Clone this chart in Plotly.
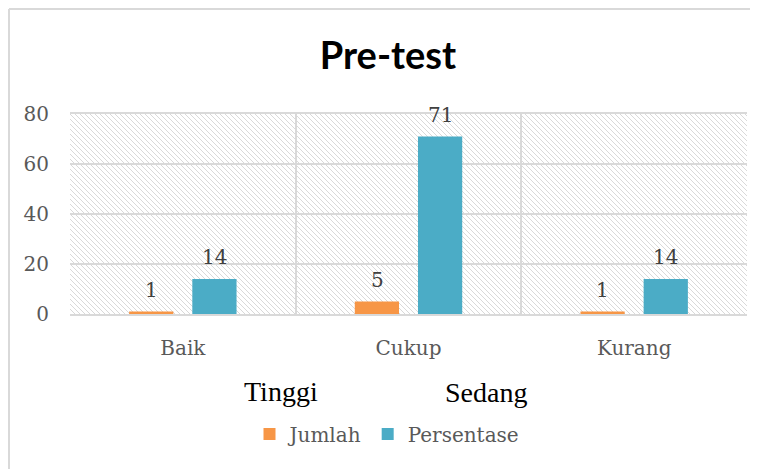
import base64
import plotly.graph_objects as go

# chart data
categories = ["Baik", "Cukup", "Kurang"]
jumlah = [1, 5, 1]
persentase = [14, 71, 14]
y_ticks = [0, 20, 40, 60, 80]
extra_labels = ["Tinggi", "Sedang"]

COLORS = {'jumlah': '#F79646', 'persentase': '#4BACC6', 'grid': '#D9D9D9', 'text': '#595959'}
SERIF = "DejaVu Serif, Liberation Serif, serif"

# figure geometry (px); the page body adds an 8px margin
W, H = 750, 461
L, R, T, B = 62, 11, 106, 155
PW, PH = W - L - R, H - T - B

# diagonal hatch for the plot area background
hatch_svg = (
    f'<svg xmlns="http://www.w3.org/2000/svg" width="{PW}" height="{PH}">'
    '<defs><pattern id="h" width="5" height="5" patternUnits="userSpaceOnUse">'
    '<path d="M-1,-1 L6,6 M-1,4 L1,6 M4,-1 L6,1" stroke="#D9D9D9" stroke-width="1"/>'
    '</pattern></defs>'
    f'<rect width="{PW}" height="{PH}" fill="url(#h)"/></svg>'
)
hatch_uri = "data:image/svg+xml;base64," + base64.b64encode(hatch_svg.encode()).decode()

fig = go.Figure()

series = [("Jumlah", jumlah, COLORS['jumlah'], -31.5),
          ("Persentase", persentase, COLORS['persentase'], 31.5)]

for name, values, color, shift in series:
    fig.add_trace(go.Bar(
        x=categories, y=values, name=name,
        marker=dict(color=color, line=dict(width=0)),
    ))
    # data labels sit a little higher than plotly's "outside" text
    for cat, val in zip(categories, values):
        fig.add_annotation(x=cat, y=val, xref="x", yref="y", text=str(val),
                           xshift=shift, yshift=22, xanchor="center", yanchor="middle",
                           showarrow=False,
                           font=dict(family=SERIF, size=20, color="#404040"))


def px_x(px):
    return (px - L) / PW


def px_y(py):
    return (H - B - py) / PH


fig.add_layout_image(dict(
    source=hatch_uri, xref="paper", yref="paper", x=0, y=1,
    sizex=1, sizey=1, xanchor="left", yanchor="top",
    sizing="stretch", layer="below",
))

# outer chart frame (left and top edges only are visible)
for x0, y0, x1, y1 in [(1, 1, 1, H), (1, 1, W, 1)]:
    fig.add_shape(type="line", xref="paper", yref="paper",
                  x0=px_x(x0), y0=px_y(y0), x1=px_x(x1), y1=px_y(y1),
                  line=dict(color=COLORS['grid'], width=2))

for label, cx, cy in zip(extra_labels, [273, 478], [383, 384]):
    fig.add_annotation(text=label, xref="paper", yref="paper",
                       x=px_x(cx), y=px_y(cy), xanchor="center", yanchor="middle",
                       showarrow=False,
                       font=dict(family="Liberation Serif, serif", size=28, color="#000000"))

fig.update_layout(
    width=W, height=H,
    margin=dict(l=L, r=R, t=T, b=B, autoexpand=False),
    paper_bgcolor="white",
    plot_bgcolor="white",
    barmode="group",
    bargap=0.44,
    bargroupgap=0.3,
    title=dict(text="<b>Pre-test</b>", x=380 / W, xanchor="center",
               y=1 - 48 / H, yanchor="middle",
               font=dict(family="Lato, Open Sans, sans-serif", size=38, color="#000000")),
    showlegend=True,
    legend=dict(orientation="h", x=px_x(379), xanchor="center",
                y=px_y(426), yanchor="middle",
                font=dict(family=SERIF, size=20, color=COLORS['text']),
                itemwidth=30, tracegroupgap=0),
    xaxis=dict(
        tickson="boundaries", showgrid=True, gridcolor=COLORS['grid'], gridwidth=2,
        showline=True, linecolor=COLORS['grid'], linewidth=2, mirror=True,
        ticks="", ticklabelstandoff=15,
        tickfont=dict(family=SERIF, size=20, color=COLORS['text']),
    ),
    yaxis=dict(
        range=[0, 80], tickvals=y_ticks, showgrid=True, gridcolor=COLORS['grid'], gridwidth=2,
        zeroline=False, showline=False, ticks="", ticklabelstandoff=20,
        tickfont=dict(family=SERIF, size=20, color=COLORS['text']),
    ),
)

fig.write_html("out.html")
